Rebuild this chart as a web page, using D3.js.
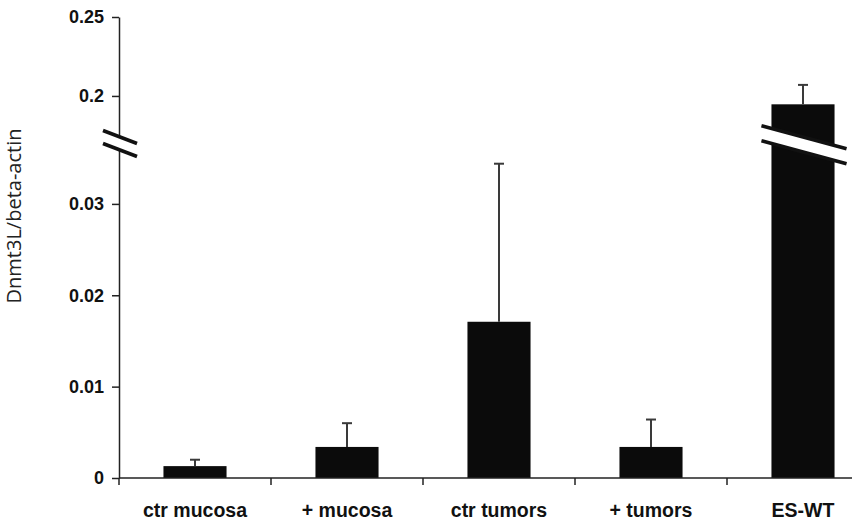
<!DOCTYPE html>
<html>
<head>
<meta charset="utf-8">
<script src="https://cdn.jsdelivr.net/npm/d3@7"></script>
<style>
  body { margin: 0; background: #fff; }
  svg { display: block; }
  .tick text { font-family: "Liberation Sans", Arial, sans-serif; font-weight: bold; font-size: 18px; fill: #111; }
</style>
</head>
<body>
<svg id="chart"></svg>
<script>
// values
const categories = ["ctr mucosa", "+ mucosa", "ctr tumors", "+ tumors", "ES-WT"];
const means = [0.0013, 0.0034, 0.0171, 0.0034, 0.1947];
const errUp = [0.0007, 0.0026, 0.0173, 0.0030, 0.0123];
const lowerTicks = [0, 0.01, 0.02, 0.03];
const upperTicks = [0.2, 0.25];
const tickLabels = {0: "0", 0.01: "0.01", 0.02: "0.02", 0.03: "0.03", 0.2: "0.2", 0.25: "0.25"};

const width = 852, height = 522;
const axisX = 119;
const breakTop = 137, breakBottom = 150;

const svg = d3.select("#chart")
    .attr("width", width)
    .attr("height", height);

// broken y scale: two linear pieces
const yLow = d3.scaleLinear().domain([0, 0.0359]).range([478, breakBottom]);
const yHigh = d3.scaleLinear().domain([0.174, 0.25]).range([breakTop, 17]);
const y = v => v >= 0.1 ? yHigh(v) : yLow(v);

const x = d3.scaleBand()
    .domain(categories)
    .range([axisX, 879]);

const ink = "#222";

// bars
const barFrac = 0.415;
svg.append("g")
  .selectAll("rect")
  .data(categories)
  .join("rect")
    .attr("x", d => x(d) + x.bandwidth() * (1 - barFrac) / 2)
    .attr("width", x.bandwidth() * barFrac)
    .attr("y", (d, i) => y(means[i]))
    .attr("height", (d, i) => yLow(0) - y(means[i]))
    .attr("fill", "#0b0b0b");

// error bars (upper only)
const eb = svg.append("g").attr("stroke", "#3a3a3a").attr("stroke-width", 2);
categories.forEach((c, i) => {
    const cx = x(c) + x.bandwidth() / 2;
    const top = y(means[i] + errUp[i]);
    eb.append("line").attr("x1", cx).attr("x2", cx).attr("y1", y(means[i])).attr("y2", top);
    eb.append("line").attr("x1", cx - 5).attr("x2", cx + 5).attr("y1", top).attr("y2", top);
});

// break through the tall bar
const big = categories[4];
const bx0 = x(big) + x.bandwidth() * (1 - barFrac) / 2 - 10;
const bx1 = x(big) + x.bandwidth() * (1 + barFrac) / 2 + 12;
const bcx = x(big) + x.bandwidth() / 2;
const slope = 0.27;
const line1 = xx => breakTop + (xx - bcx) * slope;
const line2 = xx => breakBottom + 2 + (xx - bcx) * slope;
svg.append("path")
    .attr("d", `M${bx0},${line1(bx0)}L${bx1},${line1(bx1)}L${bx1},${line2(bx1)}L${bx0},${line2(bx0)}Z`)
    .attr("fill", "#fff");
[line1, line2].forEach(f => {
    svg.append("line")
        .attr("x1", bx0).attr("y1", f(bx0))
        .attr("x2", bx1).attr("y2", f(bx1))
        .attr("stroke", "#111").attr("stroke-width", 3.5);
});

// y axis, two segments
function styleAxis(g) {
    g.select(".domain").attr("stroke", ink).attr("stroke-width", 1.5);
    g.selectAll(".tick line").attr("stroke", ink).attr("stroke-width", 1.5);
}
svg.append("g")
    .attr("transform", `translate(${axisX},0)`)
    .call(d3.axisLeft(yHigh).tickValues(upperTicks).tickSize(7).tickSizeOuter(0).tickPadding(8)
        .tickFormat(d => tickLabels[d]))
    .call(styleAxis);
svg.append("g")
    .attr("transform", `translate(${axisX},0)`)
    .call(d3.axisLeft(yLow).tickValues(lowerTicks).tickSize(7).tickSizeOuter(0).tickPadding(8)
        .tickFormat(d => tickLabels[d]))
    .call(styleAxis);

// axis break marks
[breakTop, breakBottom].forEach(by => {
    svg.append("line")
        .attr("x1", axisX - 16).attr("y1", by - 6.5)
        .attr("x2", axisX + 18).attr("y2", by + 6.5)
        .attr("stroke", "#111").attr("stroke-width", 3.5);
});

// x axis
const xa = svg.append("g").attr("stroke", ink).attr("stroke-width", 1.5);
xa.append("line").attr("x1", axisX).attr("x2", width).attr("y1", yLow(0)).attr("y2", yLow(0));
categories.forEach(c => {
    xa.append("line").attr("x1", x(c)).attr("x2", x(c)).attr("y1", yLow(0)).attr("y2", yLow(0) + 7);
});

svg.append("g")
  .selectAll("text")
  .data(categories)
  .join("text")
    .attr("x", d => x(d) + x.bandwidth() / 2)
    .attr("y", 517)
    .attr("text-anchor", "middle")
    .attr("font-family", "'Liberation Sans', Arial, sans-serif")
    .attr("font-weight", "bold")
    .attr("font-size", 19.5)
    .attr("fill", "#111")
    .text(d => d);

// y label
svg.append("text")
    .attr("transform", "translate(21,216) rotate(-90)")
    .attr("text-anchor", "middle")
    .attr("font-family", "'Open Sans', sans-serif")
    .attr("font-size", 20)
    .attr("fill", "#222")
    .text("Dnmt3L/beta-actin");
</script>
</body>
</html>
